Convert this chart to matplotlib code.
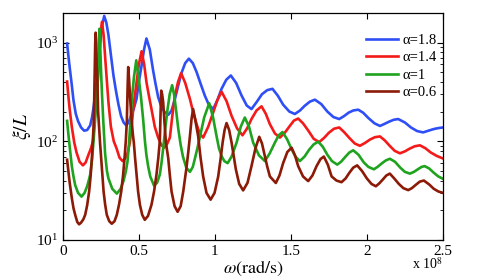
import matplotlib
matplotlib.use("Agg")
import matplotlib.pyplot as plt
from matplotlib.ticker import LogLocator, LogFormatterMathtext, NullFormatter

plt.rcParams["font.family"] = ["Liberation Serif", "DejaVu Serif"]
plt.rcParams["mathtext.fontset"] = "stix"

# omega in units of 1e8 rad/s, xi/L values
w_18 = [0.028, 0.037, 0.045, 0.058, 0.07, 0.085, 0.10, 0.12, 0.14, 0.16, 0.18, 0.192,
        0.202, 0.213, 0.224, 0.235, 0.246, 0.259, 0.272, 0.286, 0.30, 0.316, 0.333, 0.35,
        0.366, 0.383, 0.40, 0.417, 0.432, 0.445, 0.465, 0.485, 0.50, 0.518, 0.534, 0.55,
        0.572, 0.594, 0.61, 0.627, 0.648, 0.67, 0.695, 0.715, 0.735, 0.759, 0.78, 0.805,
        0.829, 0.855, 0.88, 0.907, 0.934, 0.96, 0.989, 1.016, 1.044, 1.075, 1.105, 1.14,
        1.176, 1.21, 1.241, 1.275, 1.31, 1.345, 1.379, 1.414, 1.449, 1.49, 1.526, 1.56,
        1.59, 1.625, 1.658, 1.70, 1.74, 1.78, 1.818, 1.85, 1.88, 1.91, 1.943, 1.975,
        2.01, 2.05, 2.086, 2.116, 2.146, 2.176, 2.206, 2.25, 2.29, 2.33, 2.37, 2.405,
        2.44, 2.47, 2.5]
v_18 = [980, 720, 560, 380, 260, 190, 160, 138, 128, 130, 145, 175,
        220, 300, 430, 650, 1016, 1500, 1860, 1600, 1190, 750, 464, 320,
        235, 180, 155, 145, 155, 175, 210, 270, 400, 587, 850, 1100,
        850, 520, 380, 280, 225, 197, 186, 205, 260, 367, 490, 620,
        687, 620, 502, 380, 290, 235, 212, 260, 340, 420, 464, 390,
        290, 230, 212, 250, 300, 330, 340, 290, 235, 200, 189, 205,
        228, 252, 264, 238, 200, 176, 168, 180, 195, 205, 209, 195,
        172, 152, 143, 150, 158, 165, 168, 155, 138, 127, 123, 128,
        133, 136, 138]

w_14 = [0.028, 0.037, 0.045, 0.059, 0.075, 0.09, 0.11, 0.132, 0.15, 0.167, 0.185, 0.199,
        0.206, 0.215, 0.224, 0.232, 0.239, 0.248, 0.257, 0.268, 0.279, 0.29, 0.30, 0.316,
        0.335, 0.353, 0.373, 0.393, 0.41, 0.425, 0.441, 0.452, 0.463, 0.475, 0.485, 0.50,
        0.518, 0.535, 0.55, 0.566, 0.583, 0.605, 0.627, 0.647, 0.666, 0.686, 0.704, 0.72,
        0.737, 0.758, 0.778, 0.805, 0.836, 0.858, 0.88, 0.90, 0.923, 0.956, 0.989, 1.016,
        1.044, 1.077, 1.11, 1.146, 1.182, 1.212, 1.241, 1.274, 1.307, 1.335, 1.362, 1.395,
        1.428, 1.46, 1.493, 1.52, 1.548, 1.58, 1.615, 1.65, 1.686, 1.718, 1.75, 1.784,
        1.818, 1.85, 1.885, 1.92, 1.954, 1.987, 2.02, 2.053, 2.086, 2.118, 2.15, 2.183,
        2.217, 2.25, 2.28, 2.315, 2.349, 2.385, 2.42, 2.46, 2.5]
v_14 = [403, 280, 210, 140, 97, 77, 62, 57, 61, 72, 85, 101,
        148, 210, 300, 450, 687, 1200, 1625, 1200, 687, 400, 248, 140,
        100, 85, 68, 63, 67, 75, 97, 140, 212, 300, 397, 600,
        817, 600, 397, 290, 212, 140, 109, 92, 86, 94, 109, 180,
        290, 400, 490, 390, 268, 195, 149, 120, 109, 140, 196, 260,
        318, 255, 181, 135, 115, 135, 168, 205, 226, 190, 149, 120,
        109, 122, 143, 162, 170, 152, 128, 106, 98, 108, 122, 134,
        138, 124, 108, 95, 90, 96, 104, 110, 112, 102, 90, 80,
        75.5, 79, 84, 89, 91, 85, 77, 71, 67]

w_10 = [0.028, 0.037, 0.045, 0.059, 0.07, 0.081, 0.10, 0.123, 0.143, 0.16, 0.172, 0.18,
        0.192, 0.202, 0.212, 0.222, 0.230, 0.236, 0.241, 0.246, 0.252, 0.258, 0.266, 0.278,
        0.29, 0.30, 0.325, 0.355, 0.38, 0.40, 0.415, 0.425, 0.434, 0.441, 0.449, 0.456,
        0.468, 0.483, 0.498, 0.513, 0.528, 0.54, 0.55, 0.562, 0.575, 0.60, 0.62, 0.638,
        0.65, 0.66, 0.675, 0.689, 0.703, 0.719, 0.733, 0.746, 0.759, 0.775, 0.79, 0.812,
        0.836, 0.855, 0.87, 0.885, 0.90, 0.93, 0.963, 0.988, 1.011, 1.027, 1.044, 1.062,
        1.084, 1.11, 1.143, 1.17, 1.197, 1.225, 1.252, 1.29, 1.329, 1.36, 1.395, 1.42,
        1.445, 1.475, 1.505, 1.53, 1.559, 1.59, 1.62, 1.65, 1.68, 1.71, 1.74, 1.77,
        1.805, 1.83, 1.86, 1.885, 1.91, 1.945, 1.98, 2.01, 2.046, 2.07, 2.10, 2.125,
        2.151, 2.185, 2.22, 2.25, 2.283, 2.31, 2.335, 2.36, 2.38, 2.41, 2.44, 2.47,
        2.5]
v_10 = [161, 115, 88, 56, 44, 36, 30, 27.5, 30, 35, 41, 46,
        65, 101, 165, 280, 480, 850, 1380, 900, 480, 290, 160, 75,
        50, 42, 33, 29.5, 33, 40, 50, 62, 90, 130, 200, 290,
        450, 661, 450, 290, 168, 100, 72, 55, 44, 35.5, 38, 46,
        62, 85, 140, 212, 300, 370, 290, 200, 135, 92, 70, 54,
        49, 55, 68, 85, 108, 175, 243, 175, 113, 85, 71, 63,
        60, 70, 97, 140, 174, 140, 97, 72, 63, 75, 97, 115,
        124, 105, 83, 70, 63, 70, 82, 93, 99, 88, 73, 63,
        58, 62, 70, 77, 81, 73, 61, 55, 52, 55, 60, 64,
        66.5, 62, 54, 49, 47, 49, 52, 55, 56, 53, 48, 44,
        41.7]

w_06 = [0.028, 0.045, 0.059, 0.07, 0.081, 0.095, 0.107, 0.12, 0.135, 0.147, 0.16, 0.173,
        0.183, 0.191, 0.197, 0.202, 0.206, 0.210, 0.213, 0.216, 0.219, 0.222, 0.226, 0.232,
        0.239, 0.245, 0.252, 0.26, 0.268, 0.278, 0.289, 0.305, 0.322, 0.34, 0.355, 0.37,
        0.384, 0.396, 0.406, 0.414, 0.421, 0.426, 0.430, 0.436, 0.441, 0.452, 0.46, 0.467,
        0.475, 0.485, 0.495, 0.507, 0.522, 0.539, 0.56, 0.583, 0.60, 0.616, 0.628, 0.638,
        0.643, 0.647, 0.653, 0.660, 0.668, 0.678, 0.693, 0.704, 0.715, 0.735, 0.755, 0.775,
        0.792, 0.804, 0.814, 0.826, 0.836, 0.847, 0.857, 0.868, 0.879, 0.89, 0.905, 0.923,
        0.945, 0.972, 0.998, 1.022, 1.037, 1.051, 1.064, 1.077, 1.094, 1.11, 1.125, 1.138,
        1.16, 1.186, 1.215, 1.241, 1.267, 1.292, 1.31, 1.329, 1.345, 1.362, 1.401, 1.425,
        1.449, 1.477, 1.505, 1.527, 1.548, 1.58, 1.614, 1.642, 1.669, 1.695, 1.717, 1.743,
        1.768, 1.80, 1.833, 1.86, 1.885, 1.91, 1.936, 1.968, 2.0, 2.03, 2.059, 2.082,
        2.105, 2.128, 2.151, 2.18, 2.21, 2.24, 2.272, 2.296, 2.32, 2.348, 2.375, 2.41,
        2.44, 2.47, 2.5]
v_06 = [65, 38, 26.6, 21, 18, 15.2, 14.4, 15, 16.2, 18, 22.5, 31,
        45, 68, 100, 140, 250, 550, 1000, 1260, 1000, 600, 464, 200,
        135, 95, 68, 45, 31, 23, 18, 15.5, 14.6, 15.5, 18, 23,
        31, 45, 68, 100, 160, 350, 565, 420, 300, 168, 120, 97,
        68, 46, 31, 22.7, 18, 16, 17.5, 22.7, 31, 46, 68, 101,
        200, 326, 300, 250, 160, 97, 68, 45, 31, 22, 19.3, 22,
        31, 42, 55, 80, 113, 170, 212, 175, 140, 113, 70, 44,
        30, 25.6, 30, 44, 65, 97, 130, 153, 130, 97, 70, 52,
        37, 31.8, 38, 56, 85, 111, 95, 71, 55, 44, 37.8, 45,
        60, 78, 86, 72, 56, 44, 39.5, 45, 56, 66, 70, 58,
        44, 40, 38.5, 42, 48, 54, 57, 50, 42, 37, 35, 37.5,
        41, 45, 47, 42, 37, 33.5, 32, 33.5, 36, 39, 40, 36.5,
        33, 31, 30]

series = [
    (w_18, v_18, "#2f4ff6", "α=1.8"),
    (w_14, v_14, "#f41a1a", "α=1.4"),
    (w_10, v_10, "#1fa31f", "α=1"),
    (w_06, v_06, "#8b1a06", "α=0.6"),
]

fig = plt.figure(figsize=(4.91, 2.80), dpi=100)
ax = fig.add_axes([0.128, 0.143, 0.774, 0.811])

for w, v, c, lab in series:
    ax.plot(w, v, color=c, lw=1.9, label=lab, solid_joinstyle="round")

ax.set_yscale("log")
ax.set_xlim(0, 2.5)
ax.set_ylim(10, 2000)
ax.set_xticks([0, 0.5, 1, 1.5, 2, 2.5])
ax.set_xticklabels(["0", "0.5", "1", "1.5", "2", "2.5"])
ax.yaxis.set_major_locator(LogLocator(base=10, numticks=5))
ax.yaxis.set_major_formatter(LogFormatterMathtext())
ax.yaxis.set_minor_locator(LogLocator(base=10, subs=range(2, 10), numticks=20))
ax.yaxis.set_minor_formatter(NullFormatter())
ax.tick_params(which="both", direction="in", top=True, right=True, labelsize=11)
ax.tick_params(which="major", length=4, width=0.8)
ax.tick_params(which="minor", length=2.5, width=0.6)
for s in ax.spines.values():
    s.set_linewidth(0.9)

ax.set_xlabel(r"$\omega(\mathrm{rad/s})$", fontsize=13, labelpad=1)
ax.set_ylabel(r"$\xi/L$", fontsize=14, labelpad=2)
fig.text(0.902, 0.03, r"x 10$^8$", ha="right", va="bottom", fontsize=10)

ax.legend(loc="upper right", frameon=False, fontsize=10.5, handlelength=2.2,
          handletextpad=0.3, labelspacing=0.3, borderaxespad=0.0,
          bbox_to_anchor=(1.0, 0.935))

fig.savefig("out.png", dpi=100)
